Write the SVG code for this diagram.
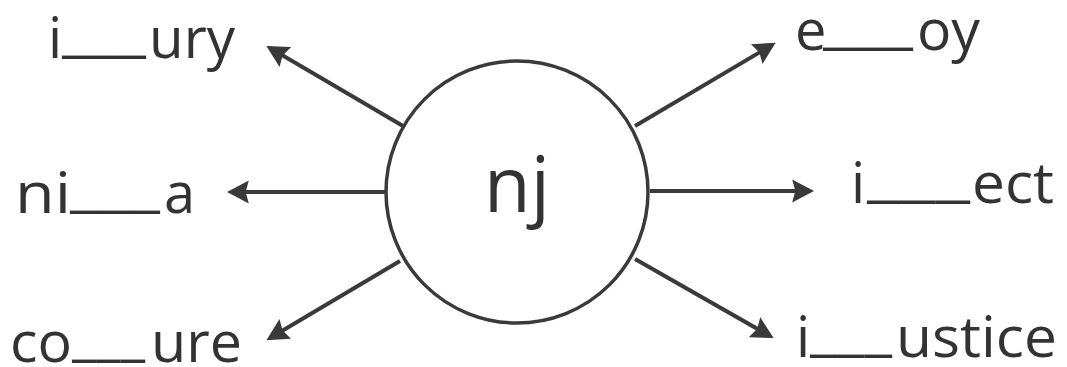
<svg xmlns="http://www.w3.org/2000/svg" width="1067" height="367" viewBox="0 0 1067 367">
<style>
.lbl{font-family:"Open Sans","DejaVu Sans",sans-serif;font-size:56px;fill:#333}
.ctr{font-family:"Open Sans","DejaVu Sans",sans-serif;font-size:76px;fill:#333}
.conn{stroke:#3a3a3a;stroke-width:4;fill:none;marker-end:url(#ah)}
.node{fill:#fff;stroke:#3a3a3a;stroke-width:3.5}
</style>
<defs>
<marker id="ah" markerUnits="userSpaceOnUse" markerWidth="22" markerHeight="24" refX="17" refY="11" orient="auto" viewBox="0 0 21 22">
<path d="M0,0 L21,11 L0,22 L3,11 z" fill="#3a3a3a"/>
</marker>
</defs>
<g id="connectors">
<line class="conn" x1="403" y1="126" x2="270" y2="48"/>
<line class="conn" x1="386" y1="192" x2="231" y2="192"/>
<line class="conn" x1="400" y1="261" x2="270" y2="338"/>
<line class="conn" x1="635" y1="126" x2="772" y2="45"/>
<line class="conn" x1="650" y1="191" x2="810" y2="191"/>
<line class="conn" x1="635" y1="259" x2="770" y2="336"/>
</g>
<g id="center">
<circle class="node" cx="517" cy="192" r="131"/>
<text class="ctr" x="517" y="212" text-anchor="middle">nj</text>
</g>
<g id="label-injury">
<text class="lbl" y="58"><tspan x="48">i</tspan><tspan x="62" dy="-8" textLength="84" lengthAdjust="spacingAndGlyphs">___</tspan><tspan x="149" dy="8" textLength="86" lengthAdjust="spacingAndGlyphs">ury</tspan></text>
</g>
<g id="label-enjoy">
<text class="lbl" y="50"><tspan x="795">e</tspan><tspan x="823" dy="-8" textLength="90" lengthAdjust="spacingAndGlyphs">___</tspan><tspan x="917" dy="8" textLength="63" lengthAdjust="spacingAndGlyphs">oy</tspan></text>
</g>
<g id="label-ninja">
<text class="lbl" y="213"><tspan x="15" textLength="56" lengthAdjust="spacingAndGlyphs">ni</tspan><tspan x="70" dy="-8" textLength="90" lengthAdjust="spacingAndGlyphs">___</tspan><tspan x="164" dy="8">a</tspan></text>
</g>
<g id="label-inject">
<text class="lbl" y="203"><tspan x="851">i</tspan><tspan x="867" dy="-8" textLength="103" lengthAdjust="spacingAndGlyphs">___</tspan><tspan x="972" dy="8" textLength="82" lengthAdjust="spacingAndGlyphs">ect</tspan></text>
</g>
<g id="label-conjure">
<text class="lbl" y="362"><tspan x="10" textLength="62" lengthAdjust="spacingAndGlyphs">co</tspan><tspan x="72" dy="-8" textLength="73" lengthAdjust="spacingAndGlyphs">___</tspan><tspan x="151" dy="8" textLength="91" lengthAdjust="spacingAndGlyphs">ure</tspan></text>
</g>
<g id="label-injustice">
<text class="lbl" y="357"><tspan x="796">i</tspan><tspan x="810" dy="-8" textLength="82" lengthAdjust="spacingAndGlyphs">___</tspan><tspan x="896" dy="8" textLength="161" lengthAdjust="spacingAndGlyphs">ustice</tspan></text>
</g>
</svg>
